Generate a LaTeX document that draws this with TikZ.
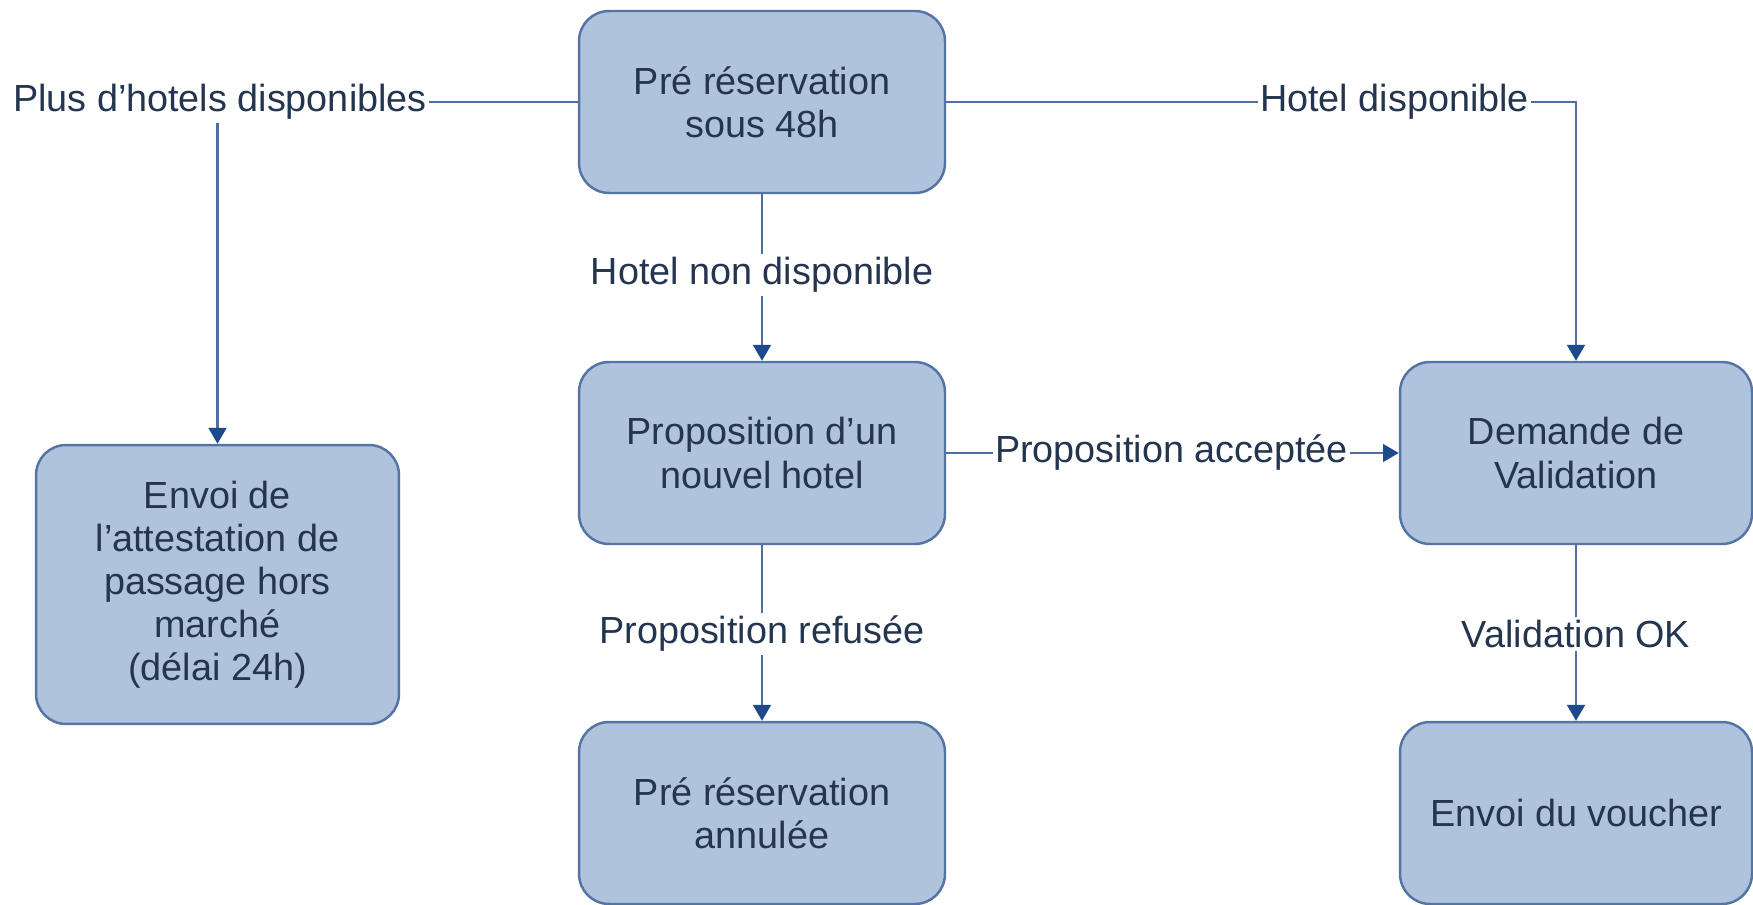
\documentclass[tikz,border=0pt]{standalone}
\usepackage{fontspec}
\setmainfont{Liberation Sans}
\usetikzlibrary{arrows.meta}
\definecolor{boxfill}{HTML}{B0C3DC}
\definecolor{boxline}{HTML}{5474A5}
\definecolor{txt}{HTML}{24364F}
\definecolor{wire}{HTML}{4E6FA3}
\definecolor{tip}{HTML}{1D4A8A}

\begin{document}
\begin{tikzpicture}[x=0.02cm,y=-0.02cm,
  etape/.style={draw=boxline,fill=boxfill,line width=1.4pt,rounded corners=0.6cm,
    minimum width=7.32cm,minimum height=3.64cm,align=center,text=txt,
    font=\fontsize{21.5}{24.5}\selectfont},
  lbl/.style={text=txt,inner xsep=1pt,inner ysep=1.5pt,font=\fontsize{21.5}{24.5}\selectfont},
  lien/.style={draw=wire,line width=1.6pt},
  fleche/.style={lien,-{Triangle[width=10pt,length=9pt,color=tip]}}]
\useasboundingbox (0,0) rectangle (1753,905);
% boxes
\node[etape] (pre) at (762,102) {Pré réservation\\sous 48h};
\node[etape] (prop) at (762,453) {Proposition d’un\\nouvel hotel};
\node[etape] (annul) at (762,813) {Pré réservation\\annulée};
\node[etape,minimum width=7.04cm] (demande) at (1576,453) {Demande de\\Validation};
\node[etape,minimum width=7.04cm] (voucher) at (1576,813) {Envoi du voucher};
\node[etape,minimum width=7.26cm,minimum height=5.58cm] (attest) at (217.5,584.5)
  {Envoi de\\l’attestation de\\passage hors\\marché\\(délai 24h)};
% labels
\node[lbl,anchor=west] (lplus) at (11,102) {Plus d’hotels disponibles};
\node[lbl,anchor=west] (ldispo) at (1258,102) {Hotel disponible};
\node[lbl] (lnondispo) at (762,275) {Hotel non disponible};
\node[lbl,anchor=west] (laccept) at (993,453) {Proposition acceptée};
\node[lbl] (lrefus) at (762,634) {Proposition refusée};
\node[lbl] (lvalid) at (1576,634) {Validation OK};
% connectors
\draw[lien] (pre.west) -- (lplus.east);
\draw[fleche] (lplus.south -| attest.north) -- (attest.north);
\draw[lien] (pre.east) -- (ldispo.west);
\draw[fleche] (ldispo.east) -| (demande.north);
\draw[lien] (pre.south) -- (lnondispo.north);
\draw[fleche] (lnondispo.south) -- (prop.north);
\draw[lien] (prop.east) -- (laccept.west);
\draw[fleche] (laccept.east) -- (demande.west);
\draw[lien] (prop.south) -- (lrefus.north);
\draw[fleche] (lrefus.south) -- (annul.north);
\draw[lien] (demande.south) -- (lvalid.north);
\draw[fleche] (lvalid.south) -- (voucher.north);
\end{tikzpicture}
\end{document}
